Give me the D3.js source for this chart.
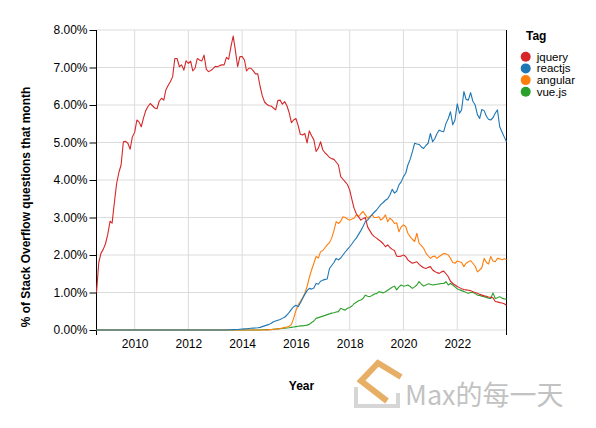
<!DOCTYPE html>
<html><head><meta charset="utf-8">
<script src="https://cdn.jsdelivr.net/npm/d3@7"></script>
<style>
html,body{margin:0;padding:0;background:#fff;}
svg{display:block;font-family:"Liberation Sans",Arial,sans-serif;}
</style></head>
<body><svg id="c" width="596" height="428"></svg>
<script>
// Monthly data, Aug 2008 .. Nov 2023 (percent of SO questions)
const startMonth = "2008-08";
const tags = ["jquery", "reactjs", "angular", "vue.js"];
const colors = ["#d62728", "#1f77b4", "#ff7f0e", "#2ca02c"];
const yTicks = [0,1,2,3,4,5,6,7,8];
const xTickYears = [2010, 2012, 2014, 2016, 2018, 2020, 2022];

const jquery = [
 1.00,1.80,2.05,2.15,2.30,
 2.55,2.90,2.85,3.40,3.90,4.20,4.40,5.02,5.03,4.98,4.82,5.15,
 5.27,5.60,5.55,5.42,5.65,5.85,5.96,6.04,5.98,5.92,5.90,6.10,
 6.18,6.13,6.40,6.52,6.62,6.75,7.24,7.24,7.02,7.07,6.93,7.18,
 7.11,7.17,6.91,6.98,7.24,7.20,7.17,7.33,6.95,6.89,6.92,6.97,
 7.03,7.02,7.05,7.07,7.07,7.27,7.22,7.55,7.84,7.45,7.02,7.29,
 7.29,7.20,6.91,6.98,6.98,6.91,6.83,6.83,6.50,6.25,6.08,6.02,
 5.98,5.97,5.92,5.87,6.12,6.13,6.02,6.09,5.98,5.80,5.53,5.60,
 5.64,5.45,5.22,5.20,5.24,4.99,5.31,5.18,5.07,4.76,4.85,5.02,
 4.80,4.72,4.67,4.60,4.57,4.55,4.48,4.40,4.09,4.02,3.95,3.88,
 3.73,3.47,3.25,3.10,3.02,2.93,2.97,3.00,2.75,2.65,2.55,2.49,
 2.45,2.40,2.36,2.30,2.22,2.27,2.20,2.15,2.12,1.97,1.96,1.97,
 2.00,1.96,1.87,1.82,1.78,1.80,1.82,1.75,1.70,1.66,1.64,1.67,
 1.69,1.60,1.56,1.53,1.51,1.55,1.57,1.50,1.42,1.30,1.24,1.20,
 1.16,1.13,1.10,1.08,1.07,1.06,1.05,1.02,1.00,0.98,0.95,0.93,
 0.91,0.90,0.88,0.87,0.86,0.76,0.75,0.73,0.72,0.70,0.66
];
const reactjs = [
 0,0,0,0,0,
 0,0,0,0,0,0,0,0,0,0,0,0,
 0,0,0,0,0,0,0,0,0,0,0,0,
 0,0,0,0,0,0,0,0,0,0,0,0,
 0,0,0,0,0,0,0,0,0,0,0,0,
 0,0,0,0,0,0.002,0.005,0.008,0.01,0.012,0.015,0.02,
 0.025,0.03,0.035,0.04,0.045,0.05,0.055,0.06,0.07,0.09,0.11,0.13,
 0.15,0.18,0.22,0.24,0.26,0.28,0.31,0.34,0.40,0.47,0.55,0.62,
 0.66,0.62,0.72,0.84,0.95,1.05,1.11,1.09,1.12,1.24,1.22,1.30,
 1.33,1.35,1.36,1.64,1.72,1.80,1.91,1.87,1.92,2.00,2.08,2.15,
 2.22,2.30,2.38,2.45,2.55,2.65,2.76,2.89,2.93,3.00,3.08,3.14,
 3.20,3.28,3.35,3.40,3.46,3.50,3.60,3.75,3.65,3.70,3.87,3.95,
 4.09,4.18,4.40,4.55,4.75,4.98,4.96,4.95,4.88,4.84,4.92,4.98,
 5.24,5.02,5.10,5.24,5.33,5.30,5.29,5.51,5.64,5.82,5.47,5.60,
 6.03,5.78,5.87,6.36,6.15,6.13,6.33,6.10,6.00,5.75,5.64,5.88,
 5.85,5.70,5.62,5.60,5.66,5.78,5.87,5.42,5.28,5.15,5.02
];
const angular = [
 0,0,0,0,0,
 0,0,0,0,0,0,0,0,0,0,0,0,
 0,0,0,0,0,0,0,0,0,0,0,0,
 0,0,0,0,0,0,0,0,0,0,0,0,
 0,0,0,0,0,0,0,0,0,0,0,0,
 0,0,0,0,0,0,0,0,0,0,0,0,
 0,0,0,0,0,0,0,0,0,0,0,0,
 0.01,0.01,0.02,0.02,0.03,0.04,0.05,0.07,0.08,0.10,0.15,0.31,
 0.52,0.67,0.76,0.86,0.98,1.16,1.40,1.60,1.78,1.96,1.92,2.09,
 2.12,2.20,2.27,2.33,2.45,2.65,2.89,2.84,2.90,3.02,3.00,2.96,
 2.93,2.96,2.98,3.07,3.02,3.10,3.16,3.07,2.98,3.03,3.07,3.00,
 3.00,3.02,2.93,2.98,3.07,2.89,2.98,2.93,2.84,2.86,2.62,2.75,
 2.80,2.76,2.58,2.49,2.42,2.36,2.58,2.31,2.25,2.18,2.05,1.98,
 1.91,1.96,1.97,1.91,1.96,2.00,2.04,2.03,2.00,1.91,1.80,1.78,
 1.84,1.82,1.80,1.69,1.78,1.82,1.85,1.78,1.70,1.55,1.60,1.66,
 1.91,1.80,1.76,1.96,1.84,1.82,1.91,1.90,1.87,1.90,1.88
];
const vuejs = [
 0,0,0,0,0,
 0,0,0,0,0,0,0,0,0,0,0,0,
 0,0,0,0,0,0,0,0,0,0,0,0,
 0,0,0,0,0,0,0,0,0,0,0,0,
 0,0,0,0,0,0,0,0,0,0,0,0,
 0,0,0,0,0,0,0,0,0,0,0,0,
 0,0,0,0,0,0,0,0,0.002,0.005,0.008,0.01,
 0.01,0.015,0.02,0.025,0.03,0.035,0.04,0.05,0.055,0.06,0.07,0.08,
 0.09,0.10,0.11,0.11,0.12,0.13,0.15,0.20,0.24,0.31,0.33,0.35,
 0.37,0.39,0.41,0.43,0.45,0.46,0.48,0.49,0.58,0.55,0.53,0.58,
 0.60,0.64,0.70,0.74,0.78,0.80,0.84,0.93,0.90,0.89,0.92,0.96,
 0.97,1.02,1.01,0.99,1.02,1.06,1.10,1.14,1.17,1.07,1.15,1.20,
 1.17,1.18,1.20,1.16,1.11,1.15,1.20,1.29,1.22,1.17,1.20,1.23,
 1.22,1.20,1.21,1.22,1.23,1.24,1.24,1.29,1.20,1.24,1.20,1.15,
 1.10,1.07,1.05,1.03,1.00,0.98,1.00,1.00,0.97,0.93,0.92,0.90,
 0.89,0.87,0.85,0.84,0.99,0.84,0.86,0.89,0.85,0.83,0.82
];
const seriesValues = [jquery, reactjs, angular, vuejs];

const svg = d3.select("#c");
const L = 96.5, R = 506.5, T = 30, B = 330;
const t0 = d3.timeParse("%Y-%m")(startMonth);
const dates = jquery.map((_, i) => d3.timeMonth.offset(t0, i));
const x = d3.scaleTime().domain([dates[0], dates[dates.length - 1]]).range([L, R]);
const y = d3.scaleLinear().domain([0, 8]).range([B, T]);

// grid
const g = svg.append("g");
g.selectAll(".hg").data(yTicks).join("line")
  .attr("x1", L).attr("x2", R).attr("y1", d => y(d)).attr("y2", d => y(d))
  .attr("stroke", "#dcdcdc").attr("stroke-width", 1);
g.selectAll(".vg").data(xTickYears).join("line")
  .attr("x1", d => x(new Date(d, 0, 1))).attr("x2", d => x(new Date(d, 0, 1)))
  .attr("y1", T).attr("y2", B)
  .attr("stroke", "#dcdcdc").attr("stroke-width", 1);

// y axis
const yAxis = d3.axisLeft(y).tickValues(yTicks).tickSize(7).tickPadding(2)
  .tickFormat(d => d3.format(".2f")(d) + "%");
const ya = svg.append("g").attr("transform", `translate(${L},0)`).call(yAxis);
ya.select(".domain").remove();
ya.selectAll("text").attr("font-size", 12).attr("fill", "#000").attr("font-family", "Liberation Sans, Arial, sans-serif");
ya.selectAll("line").attr("stroke", "#000");

// x axis labels
const xAxis = d3.axisBottom(x).tickValues(xTickYears.map(d => new Date(d, 0, 1)))
  .tickSize(0).tickPadding(9).tickFormat(d3.timeFormat("%Y"));
const xa = svg.append("g").attr("transform", `translate(0,${B})`).call(xAxis);
xa.select(".domain").remove();
xa.selectAll("text").attr("font-size", 12).attr("fill", "#000").attr("font-family", "Liberation Sans, Arial, sans-serif");

// frame verticals
svg.append("line").attr("x1", L).attr("x2", L).attr("y1", T).attr("y2", B + 5).attr("stroke", "#000");
svg.append("line").attr("x1", R).attr("x2", R).attr("y1", T).attr("y2", B + 5).attr("stroke", "#000");

// lines
const line = d3.line().x((d, i) => x(dates[i])).y(d => y(d));
const lg = svg.append("g");
seriesValues.slice().reverse().forEach((vals, k) => {
  const idx = seriesValues.length - 1 - k;
  lg.append("path").datum(vals).attr("d", line)
    .attr("fill", "none").attr("stroke", colors[idx]).attr("stroke-width", 1.1)
    .attr("stroke-linejoin", "round");
});

// axis titles
svg.append("text").attr("x", 301.5).attr("y", 390).attr("text-anchor", "middle")
  .attr("font-size", 12).attr("font-weight", "bold").text("Year");
svg.append("text").attr("transform", "translate(30,207) rotate(-90)").attr("text-anchor", "middle")
  .attr("font-size", 12).attr("font-weight", "bold").text("% of Stack Overflow questions that month");

// legend
const leg = svg.append("g");
leg.append("text").attr("x", 526).attr("y", 40).attr("font-size", 12).attr("font-weight", "bold").text("Tag");
const li = leg.selectAll(".li").data(tags).join("g").attr("transform", (d, i) => `translate(525.7,${56.7 + i * 11.7})`);
li.append("circle").attr("r", 5).attr("fill", (d, i) => colors[i]);
li.append("text").attr("x", 11).attr("y", 3.8).attr("font-size", 11.5).text(d => d);

// watermark
const wm = svg.append("g").attr("opacity", 0.85);
wm.append("path").attr("d", "M356,387 L356,406 L398,406 L398,393")
  .attr("fill", "none").attr("stroke", "#cfcfcf").attr("stroke-width", 4);
wm.append("path").attr("d", "M387,401 L361,381 L378,363 L401,377")
  .attr("fill", "none").attr("stroke", "#e3a24c").attr("stroke-width", 6).attr("stroke-linejoin", "miter");
wm.append("text").attr("x", 405).attr("y", 405).attr("font-size", 27)
  .attr("font-family", "Noto Sans CJK SC, Noto Sans, sans-serif").attr("fill", "#b8b8b8").text("Max的每一天");
</script></body></html>
